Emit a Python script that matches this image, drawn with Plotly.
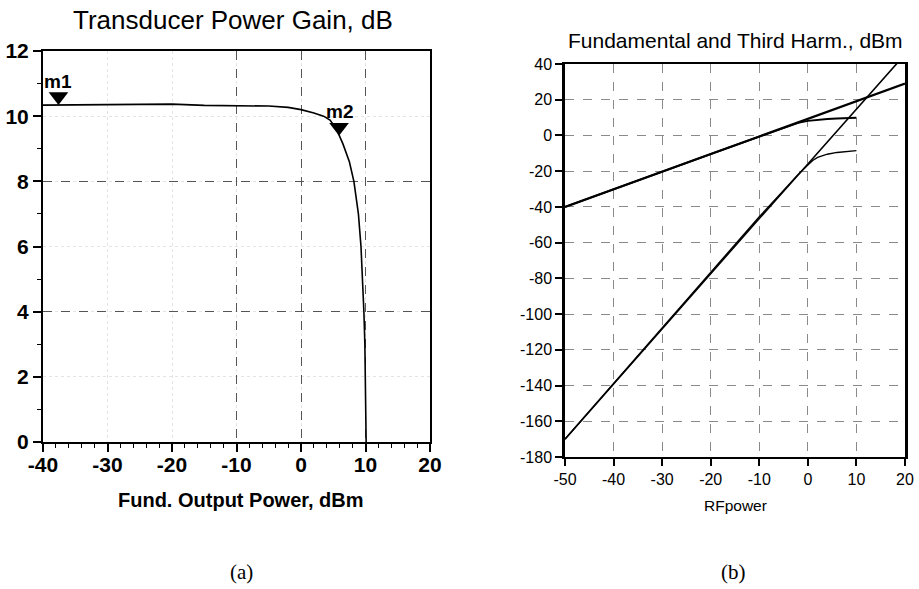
import plotly.graph_objects as go

# ---------------- Panel (a): Transducer power gain ----------------
pout_dbm = [-40, -30, -25, -20, -15, -10, -5, -2, 0, 2, 3.5, 4.5, 5.5, 6.5, 7.5,
            8.2, 8.9, 9.3, 9.55, 9.75, 9.9, 10.0, 10.1]
gain_db = [10.34, 10.35, 10.37, 10.37, 10.33, 10.33, 10.31, 10.27, 10.2, 10.1, 10.0,
           9.88, 9.6, 9.15, 8.6, 8.0, 7.0, 6.0, 5.0, 4.0, 3.0, 1.5, 0.0]
marker_names = ["m1", "m2"]
marker_x = [-37.6, 5.9]
marker_y = [10.34, 9.4]
xa_ticks = [-40, -30, -20, -10, 0, 10, 20]
xa_ticktext = ["-40", "-30", "-20", "-10", "0", "10", "20"]
ya_ticks = [0, 2, 4, 6, 8, 10, 12]
ya_ticktext = ["0", "2", "4", "6", "8", "10", "12"]

# ---------------- Panel (b): Fundamental and third harmonic ----------------
rf_lin = [-50, -40, -30, -20, -10, 0, 10, 20]
fund_lin = [-40, -30, -20.3, -10.4, -0.6, 9.3, 19.2, 29]
harm_lin = [-170, -139, -108, -77.5, -46.5, -16, 14.7, 45.4]
rf_act = [-50, -40, -30, -20, -10, -6, -4, -2, 0, 1, 2, 4, 6, 8, 10]
fund_act = [-40, -30, -20.3, -10.4, -0.6, 3.3, 5.2, 7.0, 8.2, 8.5, 8.8, 9.2, 9.5, 9.7, 9.9]
harm_act = [-170, -139, -107.5, -76.5, -45.5, -33.8, -27.8, -21.9, -16.5, -14.0, -12.3,
            -10.5, -9.5, -8.9, -8.5]
xb_ticks = [-50, -40, -30, -20, -10, 0, 10, 20]
xb_ticktext = ["-50", "-40", "-30", "-20", "-10", "0", "10", "20"]
yb_ticks = [-180, -160, -140, -120, -100, -80, -60, -40, -20, 0, 20, 40]
yb_ticktext = ["-180", "-160", "-140", "-120", "-100", "-80", "-60", "-40", "-20",
               "0", "20", "40"]

W, H = 919, 589
FONT = "Liberation Sans, Arial, sans-serif"
SERIF = "Liberation Serif, Times New Roman, serif"

xa_dom = [43 / W, 430 / W]
ya_dom = [1 - 442 / H, 1 - 51 / H]
xb_dom = [565 / W, 905 / W]
yb_dom = [1 - 457 / H, 1 - 64 / H]

fig = go.Figure()

fig.add_trace(go.Scatter(x=pout_dbm, y=gain_db, mode="lines",
                         line=dict(color="black", width=1.6),
                         xaxis="x", yaxis="y", showlegend=False))

# marker triangles: tip on the curve (offset half symbol size in data units)
msize = 17
y_range_a = [0, 12]
px_per_unit = (ya_dom[1] - ya_dom[0]) * H / (y_range_a[1] - y_range_a[0])
off = (msize / 2) / px_per_unit
fig.add_trace(go.Scatter(x=marker_x, y=[v + off for v in marker_y],
                         mode="markers",
                         marker=dict(symbol="triangle-down", size=msize, color="black",
                                     line=dict(width=0)),
                         cliponaxis=False, xaxis="x", yaxis="y", showlegend=False))

# empty trace for overlay grid axes
fig.add_trace(go.Scatter(x=[], y=[], xaxis="x3", yaxis="y3", showlegend=False))

fig.add_trace(go.Scatter(x=rf_lin, y=fund_lin, mode="lines",
                         line=dict(color="black", width=2.3),
                         xaxis="x2", yaxis="y2", showlegend=False))
fig.add_trace(go.Scatter(x=rf_act, y=fund_act, mode="lines",
                         line=dict(color="black", width=1.8),
                         xaxis="x2", yaxis="y2", showlegend=False))
fig.add_trace(go.Scatter(x=rf_lin, y=harm_lin, mode="lines",
                         line=dict(color="black", width=1.6),
                         xaxis="x2", yaxis="y2", showlegend=False))
fig.add_trace(go.Scatter(x=rf_act, y=harm_act, mode="lines",
                         line=dict(color="black", width=1.4),
                         xaxis="x2", yaxis="y2", showlegend=False))

tick_a = dict(family=FONT, size=21, color="black", weight="bold")
tick_b = dict(family=FONT, size=16, color="black")

fig.update_layout(
    template="none",
    width=W, height=H, margin=dict(l=0, r=0, t=0, b=0, autoexpand=False),
    paper_bgcolor="white", plot_bgcolor="white",
    xaxis=dict(domain=xa_dom, range=[-40, 20], tickvals=xa_ticks, ticktext=xa_ticktext,
               anchor="y", automargin=False, ticklabelstandoff=-5,
               ticks="outside", ticklen=8, tickwidth=1.5, tickcolor="black",
               minor=dict(dtick=2, ticks="outside", ticklen=4, tickwidth=1, tickcolor="black",
                          showgrid=False),
               showline=True, linecolor="black", linewidth=2, mirror=True,
               showgrid=True, gridcolor="#e4e4e4", griddash="dot", gridwidth=1,
               zeroline=False, tickfont=tick_a),
    yaxis=dict(domain=ya_dom, range=y_range_a, tickvals=ya_ticks, ticktext=ya_ticktext,
               anchor="x", automargin=False,
               ticks="outside", ticklen=8, tickwidth=1.5, tickcolor="black",
               minor=dict(dtick=1, ticks="outside", ticklen=4, tickwidth=1, tickcolor="black",
                          showgrid=False),
               showline=True, linecolor="black", linewidth=2, mirror=True,
               showgrid=True, gridcolor="#e4e4e4", griddash="dot", gridwidth=1,
               zeroline=False, tickfont=tick_a),
    xaxis3=dict(overlaying="x", anchor="y", range=[-40, 20], tickvals=[-10, 0, 10],
                automargin=False,
                showticklabels=False, ticks="", showline=False, zeroline=False,
                showgrid=True, gridcolor="#555555", griddash="dash", gridwidth=1),
    yaxis3=dict(overlaying="y", anchor="x", range=y_range_a, tickvals=[4, 8],
                automargin=False,
                showticklabels=False, ticks="", showline=False, zeroline=False,
                showgrid=True, gridcolor="#555555", griddash="dash", gridwidth=1),
    xaxis2=dict(domain=xb_dom, range=[-50, 20], tickvals=xb_ticks, ticktext=xb_ticktext,
                anchor="y2", automargin=False,
                ticks="outside", ticklen=7, tickwidth=1.5, tickcolor="black",
                showline=True, linecolor="black", linewidth=2, mirror=True,
                showgrid=True, gridcolor="#8a8a8a", griddash="dash", gridwidth=1,
                zeroline=False, tickfont=tick_b),
    yaxis2=dict(domain=yb_dom, range=[-180, 40], tickvals=yb_ticks, ticktext=yb_ticktext,
                anchor="x2", automargin=False,
                ticks="outside", ticklen=7, tickwidth=1.5, tickcolor="black",
                showline=True, linecolor="black", linewidth=2.5, mirror=True,
                showgrid=True, gridcolor="#8a8a8a", griddash="dash", gridwidth=1,
                zeroline=False, tickfont=tick_b),
)

ann = [
    dict(text="Transducer Power Gain, dB", x=232.5 / W, y=1 - 20 / H,
         font=dict(family=FONT, size=26, color="black")),
    dict(text="Fund. Output Power, dBm", x=241 / W, y=1 - 500 / H,
         font=dict(family=FONT, size=20, color="black", weight="bold")),
    dict(text="(a)", x=241.5 / W, y=1 - 572 / H,
         font=dict(family=SERIF, size=21, color="black")),
    dict(text="Fundamental and Third Harm., dBm", x=735.5 / W, y=1 - 41 / H,
         font=dict(family=FONT, size=21, color="black")),
    dict(text="RFpower", x=735 / W, y=1 - 505 / H,
         font=dict(family=FONT, size=15.5, color="black")),
    dict(text="(b)", x=733 / W, y=1 - 572 / H,
         font=dict(family=SERIF, size=21, color="black")),
]
for a in ann:
    a.update(xref="paper", yref="paper", showarrow=False, xanchor="center", yanchor="middle")

# marker labels placed just above each triangle
for name, mx, my in zip(marker_names, marker_x, marker_y):
    ann.append(dict(text=name, x=mx, y=my, xref="x", yref="y", showarrow=False,
                    xanchor="center", yanchor="middle", yshift=24,
                    font=dict(family=FONT, size=19, color="black", weight="bold")))

fig.update_layout(annotations=ann)

fig.write_html("out.html")
